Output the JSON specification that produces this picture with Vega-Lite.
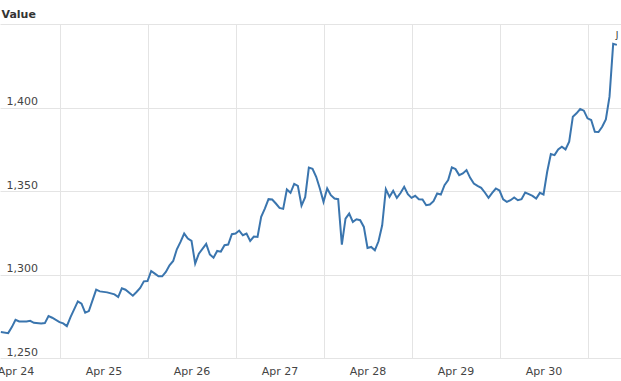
{
  "$schema": "https://vega.github.io/schema/vega-lite/v6.json",
  "width": 621,
  "height": 334,
  "autosize": {"type": "none"},
  "padding": {"left": 0, "top": 24, "right": 0, "bottom": 23},
  "background": "white",
  "config": {"view": {"stroke": null}, "font": "DejaVu Sans"},
  "encoding": {
    "y": {
      "field": "v", "type": "quantitative",
      "scale": {"domain": [1250, 1450], "nice": false, "zero": false},
      "axis": {
        "title": "Value", "titleAngle": 0, "titleAlign": "left", "titleBaseline": "alphabetic",
        "titleX": 1, "titleY": -7, "titleFontSize": 11, "titleFontWeight": "bold", "titleColor": "#333333",
        "values": [1250, 1300, 1350, 1400, 1450],
        "labelExpr": "datum.value == 1450 ? '' : format(datum.value, ',')",
        "labelAlign": "left", "labelBaseline": "alphabetic", "labelPadding": -6,
        "tickSize": 0, "ticks": false, "domain": false, "labelOffset": -3,
        "labelFontSize": 11, "labelColor": "#444444",
        "grid": true, "gridColor": "#e4e4e4", "gridWidth": 1
      }
    }
  },
  "layer": [
    {
      "data": {"values": [
        {"t":"2024-04-24T08:00","v":1265.5},{"t":"2024-04-24T10:00","v":1264.9},{"t":"2024-04-24T11:00","v":1268.5},{"t":"2024-04-24T12:00","v":1272.9},{"t":"2024-04-24T13:00","v":1271.9},{"t":"2024-04-24T15:00","v":1271.9},{"t":"2024-04-24T16:00","v":1272.3},{"t":"2024-04-24T17:00","v":1271.1},{"t":"2024-04-24T19:00","v":1270.7},{"t":"2024-04-24T20:00","v":1270.9},{"t":"2024-04-24T21:00","v":1275.1},{"t":"2024-04-24T22:00","v":1274.1},
        {"t":"2024-04-25T00:00","v":1271.5},{"t":"2024-04-25T01:00","v":1270.7},{"t":"2024-04-25T02:00","v":1269.1},{"t":"2024-04-25T03:00","v":1274.5},{"t":"2024-04-25T05:00","v":1283.9},{"t":"2024-04-25T06:00","v":1282.5},{"t":"2024-04-25T07:00","v":1277.1},{"t":"2024-04-25T08:00","v":1278.1},{"t":"2024-04-25T10:00","v":1290.9},{"t":"2024-04-25T11:00","v":1289.9},{"t":"2024-04-25T13:00","v":1289.3},{"t":"2024-04-25T15:00","v":1288.1},{"t":"2024-04-25T16:00","v":1286.5},{"t":"2024-04-25T17:00","v":1291.7},{"t":"2024-04-25T18:00","v":1290.9},{"t":"2024-04-25T20:00","v":1287.3},{"t":"2024-04-25T21:00","v":1289.5},{"t":"2024-04-25T22:00","v":1291.9},{"t":"2024-04-25T23:00","v":1295.9},
        {"t":"2024-04-26T00:00","v":1296.1},{"t":"2024-04-26T01:00","v":1302.1},{"t":"2024-04-26T02:00","v":1300.5},{"t":"2024-04-26T03:00","v":1298.9},{"t":"2024-04-26T04:00","v":1298.9},{"t":"2024-04-26T05:00","v":1301.5},{"t":"2024-04-26T06:00","v":1305.5},{"t":"2024-04-26T07:00","v":1308.1},{"t":"2024-04-26T08:00","v":1315.1},{"t":"2024-04-26T09:00","v":1319.5},{"t":"2024-04-26T10:00","v":1324.5},{"t":"2024-04-26T11:00","v":1321.5},{"t":"2024-04-26T12:00","v":1320.1},{"t":"2024-04-26T13:00","v":1306.5},{"t":"2024-04-26T14:00","v":1312.5},{"t":"2024-04-26T16:00","v":1318.3},{"t":"2024-04-26T17:00","v":1312.0},{"t":"2024-04-26T18:00","v":1310.1},{"t":"2024-04-26T19:00","v":1314.1},{"t":"2024-04-26T20:00","v":1313.7},{"t":"2024-04-26T21:00","v":1317.5},{"t":"2024-04-26T22:00","v":1317.9},{"t":"2024-04-26T23:00","v":1324.1},
        {"t":"2024-04-27T00:00","v":1324.5},{"t":"2024-04-27T01:00","v":1326.3},{"t":"2024-04-27T02:00","v":1323.5},{"t":"2024-04-27T03:00","v":1324.5},{"t":"2024-04-27T04:00","v":1320.1},{"t":"2024-04-27T05:00","v":1322.7},{"t":"2024-04-27T06:00","v":1322.5},{"t":"2024-04-27T07:00","v":1334.5},{"t":"2024-04-27T08:00","v":1339.5},{"t":"2024-04-27T09:00","v":1345.1},{"t":"2024-04-27T10:00","v":1344.9},{"t":"2024-04-27T11:00","v":1342.5},{"t":"2024-04-27T12:00","v":1339.9},{"t":"2024-04-27T13:00","v":1339.3},{"t":"2024-04-27T14:00","v":1350.9},{"t":"2024-04-27T15:00","v":1348.9},{"t":"2024-04-27T16:00","v":1354.3},{"t":"2024-04-27T17:00","v":1353.1},{"t":"2024-04-27T18:00","v":1341.3},{"t":"2024-04-27T19:00","v":1346.3},{"t":"2024-04-27T20:00","v":1364.0},{"t":"2024-04-27T21:00","v":1363.3},{"t":"2024-04-27T22:00","v":1358.5},{"t":"2024-04-27T23:00","v":1351.5},
        {"t":"2024-04-28T00:00","v":1343.5},{"t":"2024-04-28T01:00","v":1351.5},{"t":"2024-04-28T02:00","v":1347.5},{"t":"2024-04-28T03:00","v":1345.5},{"t":"2024-04-28T04:00","v":1345.1},{"t":"2024-04-28T05:00","v":1317.9},{"t":"2024-04-28T06:00","v":1333.5},{"t":"2024-04-28T07:00","v":1336.5},{"t":"2024-04-28T08:00","v":1331.5},{"t":"2024-04-28T09:00","v":1333.1},{"t":"2024-04-28T10:00","v":1332.5},{"t":"2024-04-28T11:00","v":1328.5},{"t":"2024-04-28T12:00","v":1315.9},{"t":"2024-04-28T13:00","v":1316.5},{"t":"2024-04-28T14:00","v":1314.5},{"t":"2024-04-28T15:00","v":1319.9},{"t":"2024-04-28T16:00","v":1329.5},{"t":"2024-04-28T17:00","v":1351.1},{"t":"2024-04-28T18:00","v":1346.5},{"t":"2024-04-28T19:00","v":1350.1},{"t":"2024-04-28T20:00","v":1345.9},{"t":"2024-04-28T21:00","v":1348.8},{"t":"2024-04-28T22:00","v":1352.5},{"t":"2024-04-28T23:00","v":1348.1},
        {"t":"2024-04-29T00:00","v":1345.9},{"t":"2024-04-29T01:00","v":1347.1},{"t":"2024-04-29T02:00","v":1345.1},{"t":"2024-04-29T03:00","v":1344.9},{"t":"2024-04-29T04:00","v":1341.5},{"t":"2024-04-29T05:00","v":1341.9},{"t":"2024-04-29T06:00","v":1343.9},{"t":"2024-04-29T07:00","v":1348.5},{"t":"2024-04-29T08:00","v":1347.9},{"t":"2024-04-29T09:00","v":1353.5},{"t":"2024-04-29T10:00","v":1356.5},{"t":"2024-04-29T11:00","v":1364.1},{"t":"2024-04-29T12:00","v":1363.1},{"t":"2024-04-29T13:00","v":1359.5},{"t":"2024-04-29T14:00","v":1360.5},{"t":"2024-04-29T15:00","v":1362.5},{"t":"2024-04-29T16:00","v":1357.9},{"t":"2024-04-29T17:00","v":1354.5},{"t":"2024-04-29T18:00","v":1353.1},{"t":"2024-04-29T19:00","v":1351.9},{"t":"2024-04-29T20:00","v":1349.1},{"t":"2024-04-29T21:00","v":1345.9},{"t":"2024-04-29T22:00","v":1348.9},{"t":"2024-04-29T23:00","v":1351.5},
        {"t":"2024-04-30T00:00","v":1350.3},{"t":"2024-04-30T01:00","v":1345.0},{"t":"2024-04-30T02:00","v":1343.5},{"t":"2024-04-30T03:00","v":1344.5},{"t":"2024-04-30T04:00","v":1346.1},{"t":"2024-04-30T05:00","v":1344.5},{"t":"2024-04-30T06:00","v":1345.1},{"t":"2024-04-30T07:00","v":1349.1},{"t":"2024-04-30T08:00","v":1348.1},{"t":"2024-04-30T09:00","v":1347.1},{"t":"2024-04-30T10:00","v":1345.5},{"t":"2024-04-30T11:00","v":1348.9},{"t":"2024-04-30T12:00","v":1347.9},{"t":"2024-04-30T13:00","v":1361.5},{"t":"2024-04-30T14:00","v":1372.1},{"t":"2024-04-30T15:00","v":1371.5},{"t":"2024-04-30T16:00","v":1374.9},{"t":"2024-04-30T17:00","v":1376.5},{"t":"2024-04-30T18:00","v":1374.9},{"t":"2024-04-30T19:00","v":1379.5},{"t":"2024-04-30T20:00","v":1394.5},{"t":"2024-04-30T21:00","v":1396.5},{"t":"2024-04-30T22:00","v":1399.1},{"t":"2024-04-30T23:00","v":1398.1},
        {"t":"2024-05-01T00:00","v":1393.5},{"t":"2024-05-01T01:00","v":1392.5},{"t":"2024-05-01T02:00","v":1385.5},{"t":"2024-05-01T03:00","v":1385.3},{"t":"2024-05-01T04:00","v":1388.5},{"t":"2024-05-01T05:00","v":1392.9},{"t":"2024-05-01T06:00","v":1406.5},{"t":"2024-05-01T07:00","v":1438.1},{"t":"2024-05-01T08:00","v":1437.5}
      ]},
      "mark": {"type": "line", "color": "#3a75ae", "strokeWidth": 2},
      "encoding": {
        "x": {
          "field": "t", "type": "temporal",
          "scale": {"domain": [{"year": 2024, "month": 4, "date": 24, "hours": 7, "minutes": 46}, {"year": 2024, "month": 5, "date": 1, "hours": 9, "minutes": 8}]},
          "axis": {
            "orient": "bottom", "title": null, "grid": true, "labels": false, "ticks": false, "domain": false,
            "gridColor": "#e4e4e4", "gridWidth": 1,
            "values": [
              {"year": 2024, "month": 4, "date": 25}, {"year": 2024, "month": 4, "date": 26}, {"year": 2024, "month": 4, "date": 27},
              {"year": 2024, "month": 4, "date": 28}, {"year": 2024, "month": 4, "date": 29}, {"year": 2024, "month": 4, "date": 30},
              {"year": 2024, "month": 5, "date": 1}
            ]
          }
        }
      }
    },
    {
      "data": {"values": [{"t": "2024-05-01T08:00", "v": 1437.5, "note": "J"}]},
      "mark": {"type": "text", "align": "left", "baseline": "alphabetic", "dx": -1, "dy": -7, "fontSize": 9, "fill": "#333333"},
      "encoding": {
        "x": {
          "field": "t", "type": "temporal",
          "scale": {"domain": [{"year": 2024, "month": 4, "date": 24, "hours": 7, "minutes": 46}, {"year": 2024, "month": 5, "date": 1, "hours": 9, "minutes": 8}]},
          "axis": {
            "orient": "bottom", "title": null, "grid": false, "ticks": false, "tickSize": 0, "domain": false,
            "format": "%b %d", "labelPadding": 7, "labelFontSize": 11, "labelColor": "#444444", "labelFlush": false,
            "values": [
              {"year": 2024, "month": 4, "date": 24, "hours": 12}, {"year": 2024, "month": 4, "date": 25, "hours": 12},
              {"year": 2024, "month": 4, "date": 26, "hours": 12}, {"year": 2024, "month": 4, "date": 27, "hours": 12},
              {"year": 2024, "month": 4, "date": 28, "hours": 12}, {"year": 2024, "month": 4, "date": 29, "hours": 12},
              {"year": 2024, "month": 4, "date": 30, "hours": 12}
            ]
          }
        },
        "text": {"field": "note"}
      }
    }
  ],
  "resolve": {"axis": {"x": "independent"}}
}
